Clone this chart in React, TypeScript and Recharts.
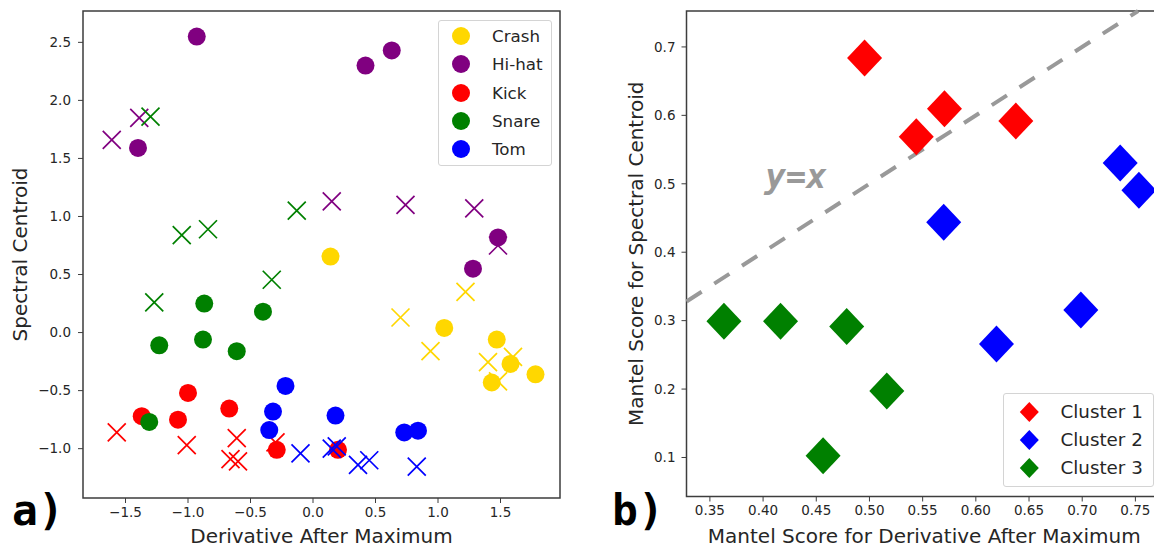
import React from "react";
import { ScatterChart, Scatter, XAxis, YAxis, ReferenceArea, ReferenceLine, ReferenceDot, Legend, Label } from "recharts";

// ---------- panel a) drum sounds ----------
const drumNames = ["Crash", "Hi-hat", "Kick", "Snare", "Tom"];
const drumColors = ["#ffd700", "#800080", "#ff0000", "#008000", "#0000ff"];

// filled circles
const crashDots = [
  { x: 0.14, y: 0.655 }, { x: 1.05, y: 0.04 }, { x: 1.47, y: -0.06 },
  { x: 1.58, y: -0.27 }, { x: 1.78, y: -0.36 }, { x: 1.43, y: -0.43 },
];
const hihatDots = [
  { x: -0.93, y: 2.55 }, { x: 0.42, y: 2.3 }, { x: 0.63, y: 2.43 },
  { x: -1.4, y: 1.59 }, { x: 1.48, y: 0.82 }, { x: 1.28, y: 0.55 },
];
const kickDots = [
  { x: -1.0, y: -0.52 }, { x: -0.67, y: -0.655 }, { x: -1.37, y: -0.72 },
  { x: -1.08, y: -0.75 }, { x: -0.29, y: -1.01 }, { x: 0.2, y: -1.01 },
];
const snareDots = [
  { x: -0.87, y: 0.25 }, { x: -0.4, y: 0.18 }, { x: -1.23, y: -0.11 },
  { x: -0.88, y: -0.06 }, { x: -0.61, y: -0.16 }, { x: -1.31, y: -0.77 },
];
const tomDots = [
  { x: -0.22, y: -0.46 }, { x: -0.32, y: -0.68 }, { x: -0.35, y: -0.84 },
  { x: 0.18, y: -0.715 }, { x: 0.73, y: -0.86 }, { x: 0.84, y: -0.845 },
];

// crosses
const crashCrosses = [
  { x: 0.7, y: 0.13 }, { x: 1.22, y: 0.35 }, { x: 0.94, y: -0.16 },
  { x: 1.4, y: -0.255 }, { x: 1.6, y: -0.21 }, { x: 1.48, y: -0.42 },
];
const hihatCrosses = [
  { x: -1.39, y: 1.85 }, { x: -1.61, y: 1.66 }, { x: 0.15, y: 1.13 },
  { x: 0.74, y: 1.1 }, { x: 1.29, y: 1.07 }, { x: 1.48, y: 0.75 },
];
const kickCrosses = [
  { x: -1.57, y: -0.86 }, { x: -1.01, y: -0.97 }, { x: -0.61, y: -0.91 },
  { x: -0.66, y: -1.09 }, { x: -0.6, y: -1.11 }, { x: -0.3, y: -0.945 },
];
const snareCrosses = [
  { x: -1.3, y: 1.86 }, { x: -0.13, y: 1.05 }, { x: -1.05, y: 0.84 },
  { x: -0.84, y: 0.89 }, { x: -0.33, y: 0.455 }, { x: -1.27, y: 0.26 },
];
const tomCrosses = [
  { x: -0.1, y: -1.04 }, { x: 0.15, y: -1.0 }, { x: 0.19, y: -0.98 },
  { x: 0.36, y: -1.14 }, { x: 0.45, y: -1.1 }, { x: 0.83, y: -1.155 },
];

const drumDots = [crashDots, hihatDots, kickDots, snareDots, tomDots];
const drumCrosses = [crashCrosses, hihatCrosses, kickCrosses, snareCrosses, tomCrosses];

const aXDomain: [number, number] = [-1.84, 1.976];
const aYDomain: [number, number] = [-1.425, 2.77];
const aXTicks = [-1.5, -1.0, -0.5, 0.0, 0.5, 1.0, 1.5];
const aYTicks = [-1.0, -0.5, 0.0, 0.5, 1.0, 1.5, 2.0, 2.5];

// ---------- panel b) mantel scores ----------
const clusterNames = ["Cluster 1", "Cluster 2", "Cluster 3"];
const clusterColors = ["#ff0000", "#0000ff", "#008000"];

const cluster1 = [
  { x: 0.4954, y: 0.6837 }, { x: 0.544, y: 0.5688 },
  { x: 0.5705, y: 0.6096 }, { x: 0.6376, y: 0.5918 },
];
const cluster2 = [
  { x: 0.5698, y: 0.4437 }, { x: 0.7357, y: 0.5305 }, { x: 0.7533, y: 0.4906 },
  { x: 0.6194, y: 0.266 }, { x: 0.6987, y: 0.3155 },
];
const cluster3 = [
  { x: 0.3632, y: 0.2992 }, { x: 0.4164, y: 0.2992 }, { x: 0.4786, y: 0.2915 },
  { x: 0.5163, y: 0.197 }, { x: 0.4564, y: 0.1026 },
];
const clusters = [cluster1, cluster2, cluster3];

const bXDomain: [number, number] = [0.328, 0.775];
const bYDomain: [number, number] = [0.043, 0.7525];
const bXTicks = [0.35, 0.4, 0.45, 0.5, 0.55, 0.6, 0.65, 0.7, 0.75];
const bYTicks = [0.1, 0.2, 0.3, 0.4, 0.5, 0.6, 0.7];
const diagonalNote = { text: "y=x", x: 0.402, y: 0.494 };

const FONT = "DejaVu Sans";
const MONO = "DejaVu Sans Mono";
const INK = "#262626";
const FRAME = "#3d3d3d";
const tickStyle = { fontFamily: FONT, fontSize: 13.5, fill: INK };

const fmt1 = (v: number) => v.toFixed(1).replace("-", "\u2212");
const fmt2 = (v: number) => v.toFixed(2);

const dot = (color: string) => (p: any) => <circle cx={p.cx} cy={p.cy} r={9} fill={color} />;

const cross = (color: string) => (p: any) => (
  <path
    d={`M${p.cx - 9},${p.cy - 9}L${p.cx + 9},${p.cy + 9}M${p.cx - 9},${p.cy + 9}L${p.cx + 9},${p.cy - 9}`}
    stroke={color}
    strokeWidth={1.7}
    fill="none"
  />
);

const diamondPath = (cx: number, cy: number, w: number, h: number) =>
  `M${cx},${cy - h}L${cx + w},${cy}L${cx},${cy + h}L${cx - w},${cy}Z`;

const diamond = (color: string) => (p: any) => <path d={diamondPath(p.cx, p.cy, 17.5, 18.5)} fill={color} />;

const xLabel = (text: string, dy: number) => (props: any) => {
  const { x, y, width } = props.viewBox;
  return (
    <text x={x + width / 2} y={y + dy} textAnchor="middle" fontFamily={FONT} fontSize={20} fill={INK}>
      {text}
    </text>
  );
};

const yLabel = (text: string, cx: number) => (props: any) => {
  const { y, height } = props.viewBox;
  const cy = y + height / 2;
  return (
    <text
      x={cx}
      y={cy}
      transform={`rotate(-90 ${cx} ${cy})`}
      textAnchor="middle"
      dominantBaseline="central"
      fontFamily={FONT}
      fontSize={20}
      fill={INK}
    >
      {text}
    </text>
  );
};

const legendBox = {
  position: "relative" as const,
  boxSizing: "border-box" as const,
  border: "1px solid #d4d4d4",
  borderRadius: 3,
  background: "rgba(255,255,255,0.8)",
  fontFamily: FONT,
  color: INK,
};

const drumLegend = () => (
  <div style={{ ...legendBox, width: 114, height: 146, fontSize: 16.7 }}>
    {drumNames.map((name, i) => (
      <div key={name} style={{ position: "absolute", left: 0, top: 0.7 + i * 28.4, width: "100%", height: 28 }}>
        <svg width={40} height={28} style={{ position: "absolute", left: 0, top: 0 }}>
          <circle cx={22} cy={14} r={9} fill={drumColors[i]} />
        </svg>
        <span style={{ position: "absolute", left: 53, top: 0, lineHeight: "28px", whiteSpace: "nowrap" }}>{name}</span>
      </div>
    ))}
  </div>
);

const clusterLegend = () => (
  <div style={{ ...legendBox, width: 151, height: 94, fontSize: 18.3 }}>
    {clusterNames.map((name, i) => (
      <div key={name} style={{ position: "absolute", left: 0, top: 3.7 + i * 28.3, width: "100%", height: 28 }}>
        <svg width={45} height={28} style={{ position: "absolute", left: 0, top: 0 }}>
          <path d={diamondPath(25.3, 14, 9.5, 10)} fill={clusterColors[i]} />
        </svg>
        <span style={{ position: "absolute", left: 56.5, top: 0, lineHeight: "28px", whiteSpace: "nowrap" }}>{name}</span>
      </div>
    ))}
  </div>
);

function DrumPanel() {
  return (
    <ScatterChart width={600} height={548} margin={{ top: 11, right: 40, bottom: 0, left: 0 }}>
      <XAxis
        type="number"
        dataKey="x"
        domain={aXDomain}
        ticks={aXTicks}
        allowDataOverflow
        tickFormatter={fmt1}
        tick={tickStyle}
        tickSize={5}
        tickMargin={4}
        tickLine={{ stroke: FRAME }}
        axisLine={false}
        height={50}
      >
        <Label content={xLabel("Derivative After Maximum", 44.5)} />
      </XAxis>
      <YAxis
        type="number"
        dataKey="y"
        domain={aYDomain}
        ticks={aYTicks}
        allowDataOverflow
        tickFormatter={fmt1}
        tick={tickStyle}
        tickSize={5}
        tickMargin={7}
        tickLine={{ stroke: FRAME }}
        axisLine={false}
        width={83}
      >
        <Label content={yLabel("Spectral Centroid", 20)} />
      </YAxis>
      <ReferenceArea
        x1={aXDomain[0]}
        x2={aXDomain[1]}
        y1={aYDomain[0]}
        y2={aYDomain[1]}
        fill="none"
        stroke={FRAME}
        strokeWidth={1.5}
        ifOverflow="visible"
      />
      {drumNames.map((name, i) => [
        <Scatter key={name + "-x"} name={name} data={drumCrosses[i]} shape={cross(drumColors[i])} isAnimationActive={false} legendType="none" />,
        <Scatter key={name + "-o"} name={name} data={drumDots[i]} shape={dot(drumColors[i])} isAnimationActive={false} />,
      ])}
      <Legend
        layout="vertical"
        align="center"
        verticalAlign="middle"
        wrapperStyle={{ left: 438, top: 20, width: 114, height: 146 }}
        content={drumLegend}
      />
    </ScatterChart>
  );
}

function MantelPanel() {
  const lo = Math.max(bXDomain[0], bYDomain[0]);
  const hi = Math.min(bXDomain[1], bYDomain[1]);
  return (
    <ScatterChart width={580} height={548} margin={{ top: 11, right: 18, bottom: 0, left: 0 }}>
      <XAxis
        type="number"
        dataKey="x"
        domain={bXDomain}
        ticks={bXTicks}
        allowDataOverflow
        tickFormatter={fmt2}
        tick={tickStyle}
        tickSize={5}
        tickMargin={4}
        tickLine={{ stroke: FRAME }}
        axisLine={false}
        height={51.5}
      >
        <Label content={xLabel("Mantel Score for Derivative After Maximum", 46)} />
      </XAxis>
      <YAxis
        type="number"
        dataKey="y"
        domain={bYDomain}
        ticks={bYTicks}
        allowDataOverflow
        tickFormatter={fmt1}
        tick={tickStyle}
        tickSize={5}
        tickMargin={6}
        tickLine={{ stroke: FRAME }}
        axisLine={false}
        width={86.5}
      >
        <Label content={yLabel("Mantel Score for Spectral Centroid", 36)} />
      </YAxis>
      <ReferenceArea
        x1={bXDomain[0]}
        x2={bXDomain[1]}
        y1={bYDomain[0]}
        y2={bYDomain[1]}
        fill="none"
        stroke={FRAME}
        strokeWidth={1.5}
        ifOverflow="visible"
      />
      <ReferenceLine
        segment={[{ x: lo, y: lo }, { x: hi, y: hi }]}
        stroke="#999999"
        strokeWidth={4}
        strokeDasharray="18 15"
        ifOverflow="visible"
      />
      <ReferenceDot
        x={diagonalNote.x}
        y={diagonalNote.y}
        ifOverflow="visible"
        shape={(p: any) => (
          <text
            x={p.cx}
            y={p.cy}
            fontFamily={MONO}
            fontWeight="bold"
            fontStyle="italic"
            fontSize={34}
            fill="#999999"
          >
            {diagonalNote.text}
          </text>
        )}
      />
      {clusterNames.map((name, i) => (
        <Scatter key={name} name={name} data={clusters[i]} shape={diamond(clusterColors[i])} isAnimationActive={false} />
      ))}
      <Legend
        layout="vertical"
        align="center"
        verticalAlign="middle"
        wrapperStyle={{ left: 403, top: 393, width: 151, height: 94 }}
        content={clusterLegend}
      />
    </ScatterChart>
  );
}

export default function App() {
  return (
    <div style={{ position: "absolute", left: 0, top: 0, width: 1154, height: 548, overflow: "hidden", background: "#fff" }}>
      <div style={{ position: "absolute", left: 0, top: 0 }}>
        <DrumPanel />
      </div>
      <div style={{ position: "absolute", left: 600, top: 0 }}>
        <MantelPanel />
      </div>
      <svg width={1154} height={548} style={{ position: "absolute", left: 0, top: 0, pointerEvents: "none" }}>
        <text x={12} y={525} fontFamily={MONO} fontWeight="bold" fontSize={43} fill="#000">a)</text>
        <text x={612} y={525} fontFamily={MONO} fontWeight="bold" fontSize={43} fill="#000">b)</text>
      </svg>
    </div>
  );
}
